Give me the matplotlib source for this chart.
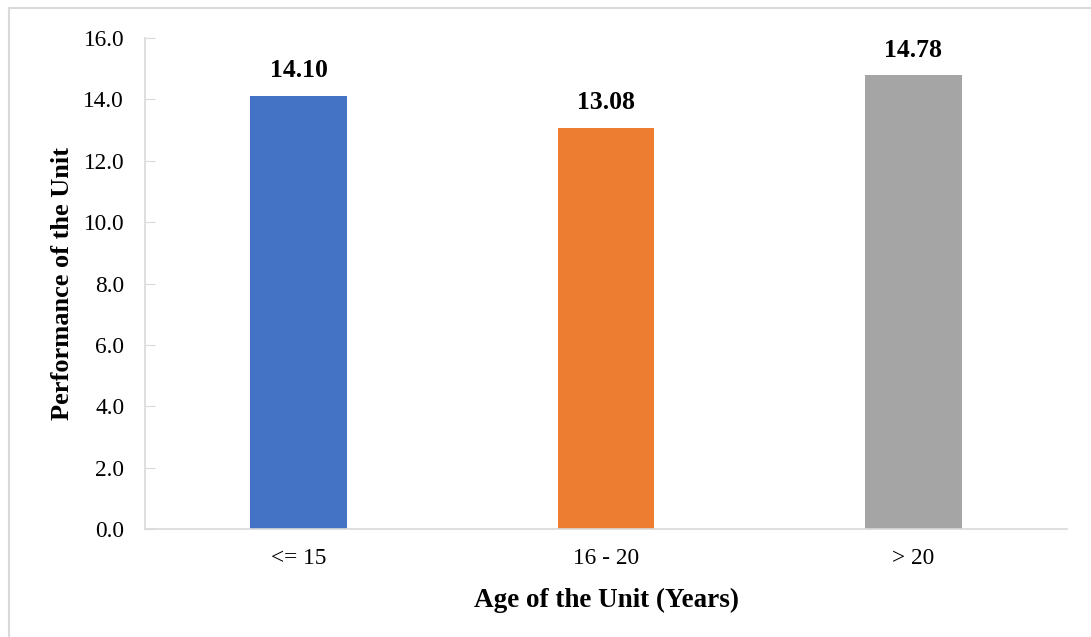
import matplotlib
matplotlib.use("Agg")
import matplotlib.pyplot as plt
from matplotlib.patches import Rectangle

categories = ["<= 15", "16 - 20", "> 20"]
values = [14.10, 13.08, 14.78]
colors = ["#4472C4", "#ED7D31", "#A5A5A5"]
y_ticks = [0, 2, 4, 6, 8, 10, 12, 14, 16]

plt.rcParams["font.family"] = ["Liberation Serif", "DejaVu Serif"]

W, H = 1091, 637
fig = plt.figure(figsize=(W / 100, H / 100), dpi=100)
fig.patch.set_facecolor("white")

# outer frame (open on the right and bottom edges)
fig.patches.append(Rectangle((9 / W, -0.1), 1.2, (H - 8) / H + 0.1,
                             transform=fig.transFigure, fill=False,
                             edgecolor="#d9d9d9", linewidth=1.5))

left, right = 145 / W, 1067 / W
bottom, top = (H - 529) / H, (H - 38) / H
ax = fig.add_axes([left, bottom, right - left, top - bottom])

x = range(len(categories))
bars = ax.bar(x, values, width=0.315, color=colors)
for xi, v in zip(x, values):
    ax.text(xi, v + 0.45, f"{v:.2f}", ha="center", va="bottom",
            fontsize=18.5, fontweight="bold")

ax.set_xlim(-0.5, len(categories) - 0.5)
ax.set_ylim(0, 16)
ax.set_yticks(y_ticks)
ax.set_yticklabels([f"{t:.1f}" for t in y_ticks], fontsize=16.8)
ax.set_xticks(list(x))
ax.set_xticklabels(categories, fontsize=16.8)

for s in ["top", "right"]:
    ax.spines[s].set_visible(False)
for s in ["left", "bottom"]:
    ax.spines[s].set_color("#d9d9d9")
    ax.spines[s].set_linewidth(1.2)

ax.tick_params(axis="y", direction="in", length=7, color="#d9d9d9", pad=15)
ax.tick_params(axis="x", length=0, pad=14)

ax.set_xlabel("Age of the Unit (Years)", fontsize=19.5, fontweight="bold", labelpad=13)
ax.set_ylabel("Performance of the Unit", fontsize=19, fontweight="bold", labelpad=7)

fig.savefig("out.png", dpi=100, facecolor="white")
